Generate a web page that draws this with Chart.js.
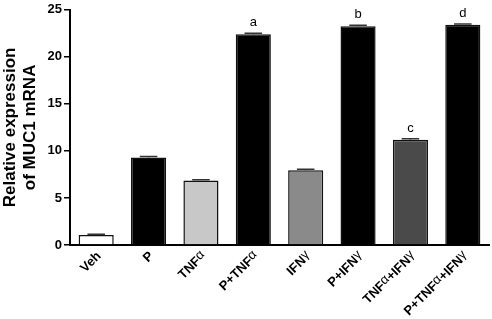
<!DOCTYPE html>
<html>
<head>
<meta charset="utf-8">
<script src="https://cdn.jsdelivr.net/npm/chart.js@4"></script>
<style>
  html, body { margin: 0; padding: 0; background: #fff; }
  #wrap { width: 492px; height: 319px; }
</style>
</head>
<body>
<div id="wrap"><canvas id="muc1Chart" width="492" height="319"></canvas></div>
<script>
// data
var categories = ['Veh', 'P', 'TNF\u03b1', 'P+TNF\u03b1', 'IFN\u03b3', 'P+IFN\u03b3', 'TNF\u03b1+IFN\u03b3', 'P+TNF\u03b1+IFN\u03b3'];
var meanExpr = [1.05, 9.3, 6.85, 22.4, 7.95, 23.25, 11.2, 23.4];
var semExpr = [0.1, 0.1, 0.08, 0.1, 0.1, 0.1, 0.1, 0.1];
var sigLetters = ['', '', '', 'a', '', 'b', 'c', 'd'];
var barFills = ['#ffffff', '#000000', '#c8c8c8', '#000000', '#8a8a8a', '#000000', '#4a4a4a', '#000000'];
var yMax = 25;
var yStep = 5;

var FONT = '"Liberation Sans", Arial, sans-serif';

// error bar caps + significance letters
var errorBarPlugin = {
    id: 'errorBars',
    afterDatasetsDraw: function(chart) {
        var ctx = chart.ctx;
        var meta = chart.getDatasetMeta(0);
        var yScale = chart.scales.y;
        ctx.save();
        meta.data.forEach(function(bar, i) {
            var x = bar.x;
            var top = yScale.getPixelForValue(meanExpr[i] + semExpr[i]);
            var capHalf = bar.width * 0.25;
            ctx.strokeStyle = '#333';
            ctx.lineWidth = 1.5;
            ctx.beginPath();
            ctx.moveTo(x, bar.y);
            ctx.lineTo(x, top);
            ctx.moveTo(x - capHalf, top);
            ctx.lineTo(x + capHalf, top);
            ctx.stroke();
            if (sigLetters[i]) {
                ctx.fillStyle = '#000';
                ctx.font = '13px ' + FONT;
                ctx.textAlign = 'center';
                ctx.textBaseline = 'bottom';
                ctx.fillText(sigLetters[i], x, top - 4);
            }
        });
        ctx.restore();
    }
};

// rotated category labels, greek letters set in a lighter face like the original
var slantLabelPlugin = {
    id: 'slantLabels',
    afterDraw: function(chart) {
        var ctx = chart.ctx;
        var xScale = chart.scales.x;
        var baseY = xScale.top + 9;
        ctx.save();
        categories.forEach(function(label, i) {
            var x = xScale.getPixelForTick(i) + 3;
            var parts = label.split(/([\u03b1\u03b3])/).filter(function(s) { return s.length; });
            var fonts = parts.map(function(p) {
                return /[\u03b1\u03b3]/.test(p) ? '13px ' + FONT : 'bold 13px ' + FONT;
            });
            var total = 0;
            parts.forEach(function(p, k) { ctx.font = fonts[k]; total += ctx.measureText(p).width; });
            ctx.save();
            ctx.translate(x, baseY);
            ctx.rotate(-Math.PI / 4);
            ctx.fillStyle = '#000';
            ctx.textAlign = 'left';
            ctx.textBaseline = 'middle';
            var cx = -total;
            parts.forEach(function(p, k) {
                ctx.font = fonts[k];
                var dy = /[\u03b1\u03b3]/.test(p) ? -2 : 0;
                ctx.fillText(p, cx, dy);
                cx += ctx.measureText(p).width;
            });
            ctx.restore();
        });
        ctx.restore();
    }
};

var ctx = document.getElementById('muc1Chart').getContext('2d');
var muc1Chart = new Chart(ctx, {
    type: 'bar',
    data: {
        labels: categories,
        datasets: [{
            data: meanExpr,
            backgroundColor: barFills,
            borderColor: '#111',
            borderWidth: 1.5,
            categoryPercentage: 1.0,
            barPercentage: 0.67
        }]
    },
    options: {
        responsive: false,
        animation: false,
        layout: { padding: { top: 5, right: 3, left: 0, bottom: 0 } },
        plugins: {
            legend: { display: false },
            tooltip: { enabled: false }
        },
        scales: {
            x: {
                grid: { display: false },
                border: { color: '#000', width: 2 },
                ticks: { display: false },
                afterFit: function(scale) { scale.height = 74; }
            },
            y: {
                min: 0,
                max: yMax,
                grid: {
                    display: true,
                    drawOnChartArea: false,
                    drawTicks: true,
                    tickLength: 6,
                    color: '#000',
                    lineWidth: 1.5
                },
                border: { color: '#000', width: 2 },
                ticks: {
                    stepSize: yStep,
                    color: '#000',
                    padding: 2,
                    font: { family: FONT, size: 13, weight: 'bold' }
                },
                title: {
                    display: true,
                    text: ['Relative expression', 'of MUC1 mRNA'],
                    color: '#000',
                    padding: { top: 0, bottom: 0 },
                    font: { family: FONT, size: 17, weight: 'bold', lineHeight: 1.2 }
                },
                afterFit: function(scale) { scale.width = 70; }
            }
        }
    },
    plugins: [errorBarPlugin, slantLabelPlugin]
});
</script>
</body>
</html>
